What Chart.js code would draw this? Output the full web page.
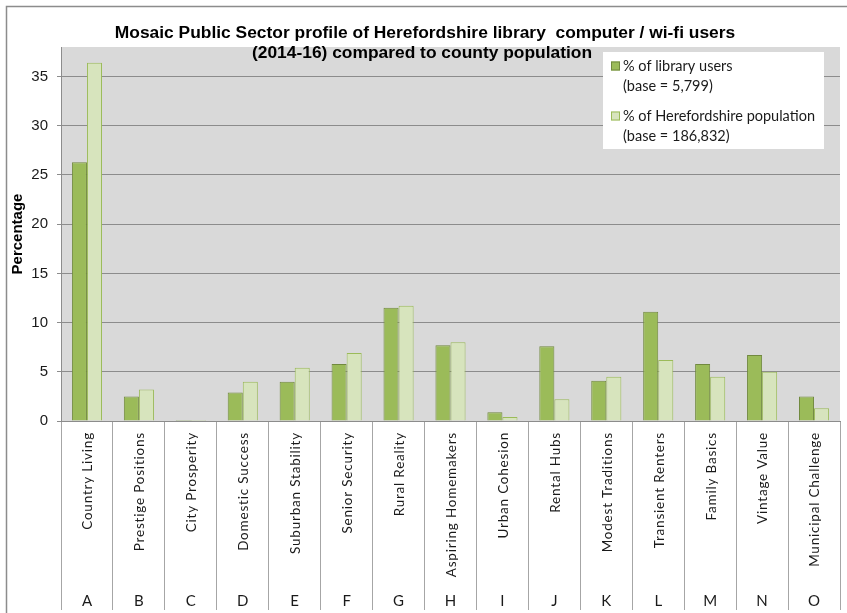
<!DOCTYPE html>
<html>
<head>
<meta charset="utf-8">
<script src="https://cdn.jsdelivr.net/npm/chart.js@4.4.1/dist/chart.umd.min.js"></script>
<style>
  html, body { margin: 0; padding: 0; background: #fff; }
  #wrap { width: 847px; height: 613px; }
</style>
</head>
<body>
<div id="wrap"><canvas id="mosaicChart" width="847" height="613"></canvas></div>
<script>
/* ================================
   Data
================================ */
const groupCodes = ['A', 'B', 'C', 'D', 'E', 'F', 'G', 'H', 'I', 'J', 'K', 'L', 'M', 'N', 'O'];
const groupNames = [
  'Country Living', 'Prestige Positions', 'City Prosperity', 'Domestic Success',
  'Suburban Stability', 'Senior Security', 'Rural Reality', 'Aspiring Homemakers',
  'Urban Cohesion', 'Rental Hubs', 'Modest Traditions', 'Transient Renters',
  'Family Basics', 'Vintage Value', 'Municipal Challenge'
];
const libraryUsers = [26.3, 2.5, 0.1, 2.9, 4.0, 5.8, 11.5, 7.7, 0.9, 7.6, 4.1, 11.1, 5.8, 6.7, 2.5];
const countyPopulation = [36.4, 3.2, 0.1, 4.0, 5.4, 6.9, 11.7, 8.0, 0.4, 2.2, 4.5, 6.2, 4.5, 5.0, 1.3];
const yTicks = [0, 5, 10, 15, 20, 25, 30, 35];

const titleLines = [
  'Mosaic Public Sector profile of Herefordshire library  computer / wi-fi users',
  '(2014-16) compared to county population'
];
const libraryLabel = ['% of library users', '(base = 5,799)'];
const populationLabel = ['% of Herefordshire population', '(base = 186,832)'];

/* ================================
   Plugins
================================ */
const frame = {
  id: 'frame',
  beforeDraw(chart) {
    const { ctx, chartArea: a } = chart;
    ctx.save();
    ctx.fillStyle = '#fff';
    ctx.fillRect(0, 0, chart.width, chart.height);
    ctx.strokeStyle = '#8c8c8c';
    ctx.lineWidth = 1.5;
    ctx.strokeRect(6.5, 6.5, chart.width + 20, chart.height + 20);
    ctx.fillStyle = '#d9d9d9';
    ctx.fillRect(a.left, a.top, a.right - a.left, a.bottom - a.top);
    ctx.restore();
  }
};

const categoryTable = {
  id: 'categoryTable',
  afterDraw(chart) {
    const { ctx } = chart;
    const x = chart.scales.x;
    const top = chart.chartArea.bottom;
    ctx.save();
    ctx.fillStyle = '#1a1a1a';
    groupNames.forEach((name, i) => {
      const cx = x.getPixelForValue(i) + 1;
      ctx.save();
      ctx.translate(cx, top + 11);
      ctx.rotate(-Math.PI / 2);
      ctx.font = '13.5px Lato';
      ctx.letterSpacing = '0.8px';
      ctx.textAlign = 'right';
      ctx.textBaseline = 'middle';
      ctx.fillText(name, 0, 0);
      ctx.restore();

      ctx.font = '15px Lato, sans-serif';
      ctx.textAlign = 'center';
      ctx.textBaseline = 'middle';
      ctx.fillText(groupCodes[i], cx - 1, top + 180);
    });
    ctx.restore();
  }
};

const titleAndKey = {
  id: 'titleAndKey',
  afterDraw(chart) {
    const { ctx } = chart;
    ctx.save();
    // title
    ctx.fillStyle = '#000';
    ctx.font = 'bold 17.4px "Liberation Sans"';
    ctx.textAlign = 'center';
    ctx.textBaseline = 'middle';
    ctx.fillText(titleLines[0], 425, 33);
    ctx.fillText(titleLines[1], 422, 53);

    // legend box
    ctx.fillStyle = '#fff';
    ctx.fillRect(603, 52, 221, 97);
    const rows = [66, 116];
    chart.data.datasets.forEach((ds, i) => {
      const y = rows[i];
      ctx.fillStyle = ds.backgroundColor;
      ctx.fillRect(611, y - 4.5, 9, 9);
      ctx.strokeStyle = ds.borderColor;
      ctx.lineWidth = 1;
      ctx.strokeRect(611.5, y - 4, 8, 8);
      ctx.fillStyle = '#1a1a1a';
      ctx.font = '14.5px Lato';
      ctx.textAlign = 'left';
      ctx.textBaseline = 'middle';
      ds.label.forEach((line, j) => ctx.fillText(line, 623, y + j * 20));
    });
    ctx.restore();
  }
};

/* ================================
   Chart
================================ */
const gridGrey = '#8c8c8c';
const tableGrey = '#a6a6a6';

new Chart(document.getElementById('mosaicChart'), {
  type: 'bar',
  data: {
    labels: groupCodes,
    datasets: [
      {
        label: libraryLabel,
        data: libraryUsers,
        backgroundColor: '#9bbb59',
        borderColor: '#71893f',
        borderWidth: 1
      },
      {
        label: populationLabel,
        data: countyPopulation,
        backgroundColor: '#d7e4bd',
        borderColor: '#9bbb59',
        borderWidth: 1
      }
    ]
  },
  options: {
    responsive: false,
    animation: false,
    layout: { padding: { left: 0, right: 7, top: 47, bottom: 0 } },
    datasets: { bar: { categoryPercentage: 0.58, barPercentage: 1.0 } },
    plugins: {
      legend: { display: false },
      title: { display: false },
      tooltip: { enabled: false }
    },
    scales: {
      x: {
        offset: true,
        ticks: { display: false },
        grid: {
          offset: true,
          drawOnChartArea: false,
          drawTicks: true,
          tickLength: 189,
          color: tableGrey
        },
        border: { display: true, color: gridGrey },
        afterFit(scale) { scale.height = 192; }
      },
      y: {
        min: 0,
        max: 38,
        afterBuildTicks(scale) { scale.ticks = yTicks.map(v => ({ value: v })); },
        ticks: {
          padding: 9,
          color: '#1a1a1a',
          font: { family: '"Liberation Sans"', size: 15 }
        },
        grid: { color: gridGrey, tickLength: 4 },
        border: { display: true, color: gridGrey },
        title: {
          display: true,
          text: 'Percentage',
          color: '#000',
          font: { family: '"Liberation Sans"', size: 15, weight: 'bold', lineHeight: 1.2 },
          padding: { top: 9, bottom: 0 }
        },
        afterFit(scale) { scale.width = 61; }
      }
    }
  },
  plugins: [frame, categoryTable, titleAndKey]
});
</script>
</body>
</html>
